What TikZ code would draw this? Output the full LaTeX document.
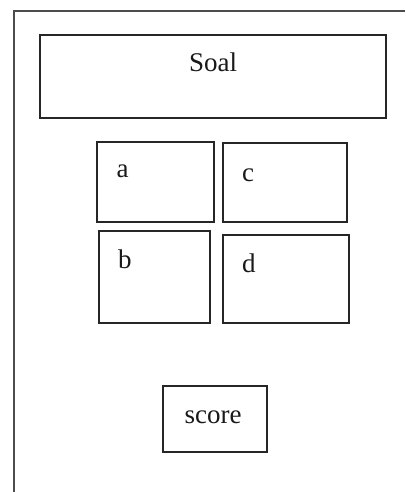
\documentclass[tikz,border=0pt]{standalone}
\usepackage{fontspec}
\setmainfont{Liberation Serif}
\begin{document}
\begin{tikzpicture}[x=1pt,y=-1pt,
  box/.style={draw=black!85,line width=1.3pt,inner sep=0pt,rectangle},
  lbl/.style={inner sep=0pt,font=\fontsize{27}{32}\selectfont,text=black!90}]
\useasboundingbox (0,0) rectangle (405,492);
\fill[white] (0,0) rectangle (405,492);
% outer frame (left and top edges)
\draw[black!70,line width=1.5pt] (14,492) -- (14,11) -- (405,11);
% boxes
\node[box,minimum width=346pt,minimum height=83pt] (soal) at (213,76.5) {};
\node[box,minimum width=117pt,minimum height=80pt] (a) at (155.5,182) {};
\node[box,minimum width=124pt,minimum height=79pt] (c) at (285,182.5) {};
\node[box,minimum width=111pt,minimum height=92pt] (b) at (154.5,277) {};
\node[box,minimum width=126pt,minimum height=88pt] (d) at (286,279) {};
\node[box,minimum width=104pt,minimum height=66pt] (score) at (215,419) {};
% labels
\node[lbl,anchor=base] (tsoal) at (213,72) {Soal};
\node[lbl,anchor=base west] (ta) at (116.5,177) {a};
\node[lbl,anchor=base west] (tc) at (242,181) {c};
\node[lbl,anchor=base west] (tb) at (118,268) {b};
\node[lbl,anchor=base west] (td) at (242,272) {d};
\node[lbl,anchor=base] (tscore) at (213,423) {score};
\end{tikzpicture}
\end{document}
